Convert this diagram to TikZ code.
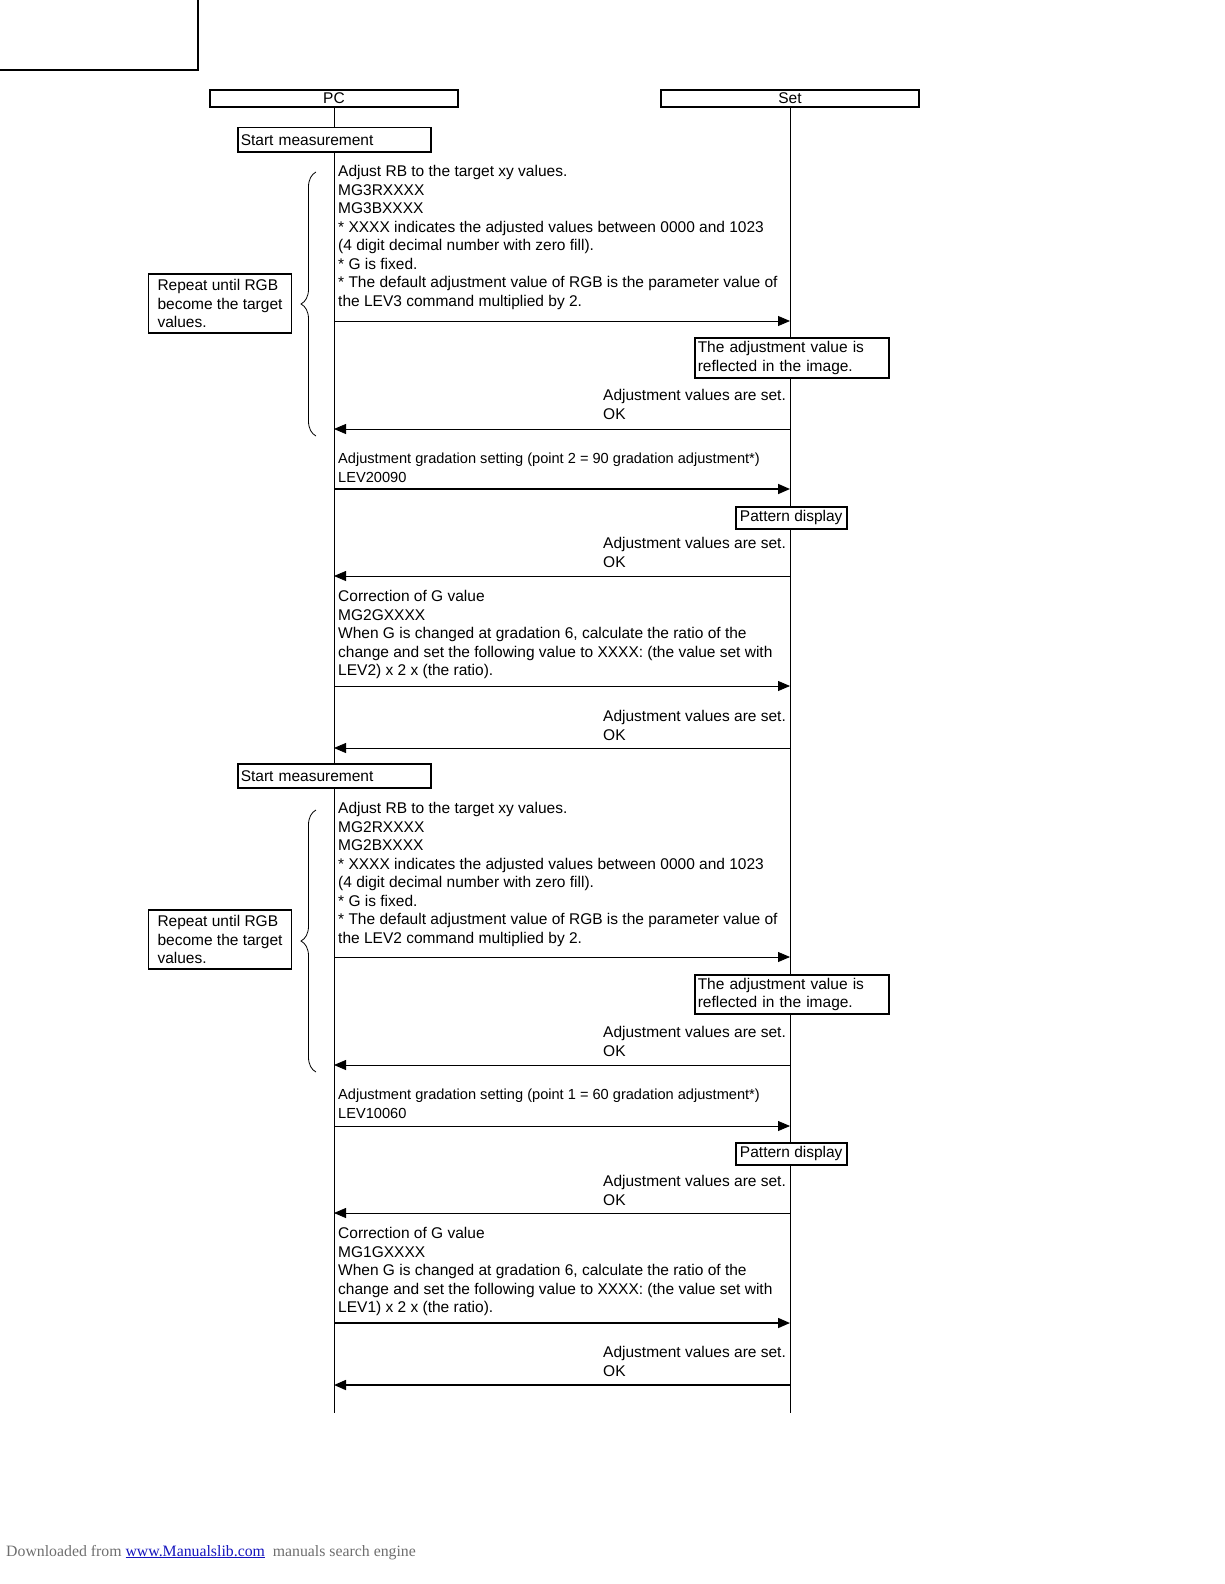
\documentclass[tikz,border=0pt]{standalone}
\usepackage{fontspec}
\setmainfont{Liberation Sans}
\newfontfamily\footfont{Liberation Serif}
\usetikzlibrary{arrows.meta,decorations.pathreplacing}
\definecolor{footgray}{RGB}{110,110,110}
\definecolor{linkblue}{RGB}{20,20,190}
\begin{document}
\begin{tikzpicture}[x=1pt,y=-1pt,
  txt/.style={font=\fontsize{15.5}{18.5}\selectfont},
  msg/.style={txt, anchor=north west, inner sep=0pt, align=left},
  narrowmsg/.style={msg, font=\fontsize{14.6}{18.5}\selectfont},
  box/.style={txt, draw, line width=1.5pt, fill=white, inner ysep=0pt},
  lbox/.style={box, anchor=north west, align=left, inner xsep=3pt},
  life/.style={line width=0.8pt},
  msgarrow/.style={line width=0.8pt, -{Triangle[length=12pt,width=10pt]}},
  thickarrow/.style={msgarrow, line width=1.6pt},
  bracestyle/.style={decorate, decoration={brace, amplitude=15pt}, line width=0.8pt}]
\useasboundingbox (0,0) rectangle (1224,1584);
% corner frame
\node[draw, line width=1.6pt, minimum width=208pt, minimum height=80pt, inner sep=0pt] (corner) at (94,30) {};
% headers
\node[box, minimum width=248pt, minimum height=17pt] (pc) at (334,98.5) {PC};
\node[box, minimum width=258pt, minimum height=17pt] (set) at (790,98.5) {Set};
\coordinate (pcend) at (334,1413);
\coordinate (setend) at (790,1413);
\draw[life] (pc.south) -- (pcend);
\draw[life] (set.south) -- (setend);

% ---- block 1
\node[lbox, minimum width=193pt, minimum height=24pt, text width=187pt] (sm1) at (237,127) {Start measurement};
\node[msg] (m1) at (338,163.6) {\strut Adjust RB to the target xy values.\\MG3RXXXX\\MG3BXXXX\\* XXXX indicates the adjusted values between 0000 and 1023\\(4 digit decimal number with zero fill).\\* G is fixed.\\* The default adjustment value of RGB is the parameter value of\\the LEV3 command multiplied by 2.};
\coordinate (a1p) at (334,321); \coordinate (a1s) at (790,321);
\draw[msgarrow] (a1p) -- (a1s);
\node[lbox, minimum width=194pt, minimum height=40pt, text width=188pt] (r1) at (694,337) {The adjustment value is\\reflected in the image.};
\node[msg] (ok1) at (603,387.6) {\strut Adjustment values are set.\\OK};
\coordinate (a2p) at (334,429); \coordinate (a2s) at (790,429);
\draw[msgarrow] (a2s) -- (a2p);
\coordinate (b1a) at (316,436); \coordinate (b1b) at (316,172);
\draw[bracestyle] (b1a) -- (b1b);
\node[box, align=left, inner xsep=9pt, minimum height=59pt] (rep1) at (220,303.5) {Repeat until RGB\\become the target\\values.};

\node[narrowmsg] (m2) at (338,450.6) {\strut Adjustment gradation setting (point 2 = 90 gradation adjustment*)\\LEV20090};
\coordinate (a3p) at (334,489); \coordinate (a3s) at (790,489);
\draw[thickarrow] (a3p) -- (a3s);
\node[box, anchor=north west, minimum width=111pt, minimum height=22pt, inner xsep=2pt] (pd1) at (735,506) {Pattern display};
\node[msg] (ok2) at (603,535.6) {\strut Adjustment values are set.\\OK};
\coordinate (a4p) at (334,576); \coordinate (a4s) at (790,576);
\draw[msgarrow] (a4s) -- (a4p);
\node[msg] (m3) at (338,588.6) {\strut Correction of G value\\MG2GXXXX\\When G is changed at gradation 6, calculate the ratio of the\\change and set the following value to XXXX: (the value set with\\LEV2) x 2 x (the ratio).};
\coordinate (a5p) at (334,686); \coordinate (a5s) at (790,686);
\draw[msgarrow] (a5p) -- (a5s);
\node[msg] (ok3) at (603,708.6) {\strut Adjustment values are set.\\OK};
\coordinate (a6p) at (334,748); \coordinate (a6s) at (790,748);
\draw[msgarrow] (a6s) -- (a6p);

% ---- block 2
\node[lbox, minimum width=193pt, minimum height=24pt, text width=187pt] (sm2) at (237,763) {Start measurement};
\node[msg] (m4) at (338,800.6) {\strut Adjust RB to the target xy values.\\MG2RXXXX\\MG2BXXXX\\* XXXX indicates the adjusted values between 0000 and 1023\\(4 digit decimal number with zero fill).\\* G is fixed.\\* The default adjustment value of RGB is the parameter value of\\the LEV2 command multiplied by 2.};
\coordinate (a7p) at (334,957); \coordinate (a7s) at (790,957);
\draw[msgarrow] (a7p) -- (a7s);
\node[lbox, minimum width=194pt, minimum height=39pt, text width=188pt] (r2) at (694,974) {The adjustment value is\\reflected in the image.};
\node[msg] (ok4) at (603,1024.6) {\strut Adjustment values are set.\\OK};
\coordinate (a8p) at (334,1065); \coordinate (a8s) at (790,1065);
\draw[msgarrow] (a8s) -- (a8p);
\coordinate (b2a) at (316,1072); \coordinate (b2b) at (316,810);
\draw[bracestyle] (b2a) -- (b2b);
\node[box, align=left, inner xsep=9pt, minimum height=59pt] (rep2) at (220,939.5) {Repeat until RGB\\become the target\\values.};

\node[narrowmsg] (m5) at (338,1086.6) {\strut Adjustment gradation setting (point 1 = 60 gradation adjustment*)\\LEV10060};
\coordinate (a9p) at (334,1126); \coordinate (a9s) at (790,1126);
\draw[msgarrow] (a9p) -- (a9s);
\node[box, anchor=north west, minimum width=111pt, minimum height=22pt, inner xsep=2pt] (pd2) at (735,1142) {Pattern display};
\node[msg] (ok5) at (603,1173.6) {\strut Adjustment values are set.\\OK};
\coordinate (a10p) at (334,1213); \coordinate (a10s) at (790,1213);
\draw[msgarrow] (a10s) -- (a10p);
\node[msg] (m6) at (338,1225.6) {\strut Correction of G value\\MG1GXXXX\\When G is changed at gradation 6, calculate the ratio of the\\change and set the following value to XXXX: (the value set with\\LEV1) x 2 x (the ratio).};
\coordinate (a11p) at (334,1323); \coordinate (a11s) at (790,1323);
\draw[thickarrow] (a11p) -- (a11s);
\node[msg] (ok6) at (603,1344.6) {\strut Adjustment values are set.\\OK};
\coordinate (a12p) at (334,1385); \coordinate (a12s) at (790,1385);
\draw[thickarrow] (a12s) -- (a12p);

% footer
\node[anchor=base west, inner sep=0pt, font=\footfont\fontsize{15.8}{18}\selectfont, text=footgray] (foot) at (6,1556) {Downloaded from \textcolor{linkblue}{\underline{www.Manualslib.com}}\ \ manuals search engine};
\end{tikzpicture}
\end{document}
